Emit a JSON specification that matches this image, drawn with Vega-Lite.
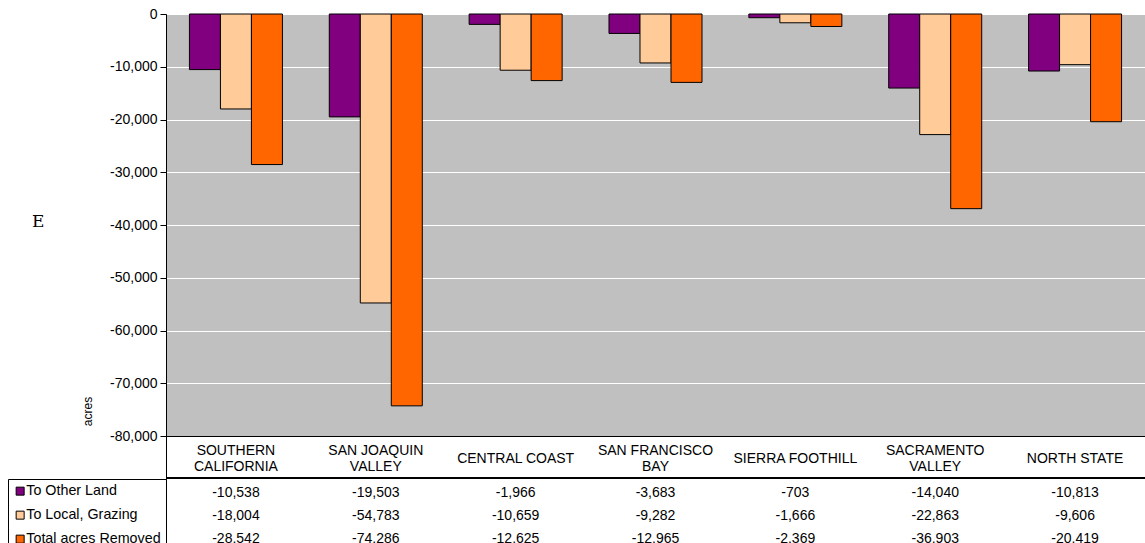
{
  "$schema": "https://vega.github.io/schema/vega-lite/v6.json",
  "padding": {"left": 7, "top": 6, "right": 0, "bottom": 0},
  "background": "white",
  "spacing": 0,
  "bounds": "flush",
  "config": {
    "locale": {"number": {"decimal": ".", "thousands": ",", "grouping": [3], "currency": ["$", ""], "minus": "-"}},
    "font": "Liberation Sans",
    "axis": {"labelFont": "Liberation Sans", "titleFont": "Liberation Sans", "labelColor": "black", "titleColor": "black"},
    "legend": {"labelFont": "Liberation Sans", "labelColor": "black"}
  },
  "datasets": {
    "acres": [
      {"region": "SOUTHERN CALIFORNIA", "series": "To Other Land", "value": -10538},
      {"region": "SAN JOAQUIN VALLEY", "series": "To Other Land", "value": -19503},
      {"region": "CENTRAL COAST", "series": "To Other Land", "value": -1966},
      {"region": "SAN FRANCISCO BAY", "series": "To Other Land", "value": -3683},
      {"region": "SIERRA FOOTHILL", "series": "To Other Land", "value": -703},
      {"region": "SACRAMENTO VALLEY", "series": "To Other Land", "value": -14040},
      {"region": "NORTH STATE", "series": "To Other Land", "value": -10813},
      {"region": "SOUTHERN CALIFORNIA", "series": "To Local, Grazing", "value": -18004},
      {"region": "SAN JOAQUIN VALLEY", "series": "To Local, Grazing", "value": -54783},
      {"region": "CENTRAL COAST", "series": "To Local, Grazing", "value": -10659},
      {"region": "SAN FRANCISCO BAY", "series": "To Local, Grazing", "value": -9282},
      {"region": "SIERRA FOOTHILL", "series": "To Local, Grazing", "value": -1666},
      {"region": "SACRAMENTO VALLEY", "series": "To Local, Grazing", "value": -22863},
      {"region": "NORTH STATE", "series": "To Local, Grazing", "value": -9606},
      {"region": "SOUTHERN CALIFORNIA", "series": "Total acres Removed", "value": -28542},
      {"region": "SAN JOAQUIN VALLEY", "series": "Total acres Removed", "value": -74286},
      {"region": "CENTRAL COAST", "series": "Total acres Removed", "value": -12625},
      {"region": "SAN FRANCISCO BAY", "series": "Total acres Removed", "value": -12965},
      {"region": "SIERRA FOOTHILL", "series": "Total acres Removed", "value": -2369},
      {"region": "SACRAMENTO VALLEY", "series": "Total acres Removed", "value": -36903},
      {"region": "NORTH STATE", "series": "Total acres Removed", "value": -20419}
    ]
  },
  "vconcat": [
    {
      "width": 979,
      "height": 422,
      "data": {"name": "acres"},
      "view": {"fill": "#C0C0C0", "stroke": "#808080", "strokeWidth": 1},
      "title": {"text": "E", "orient": "left", "frame": "group", "anchor": "middle", "angle": 0, "align": "center", "baseline": "middle", "offset": 31, "dy": -3, "font": "DejaVu Serif", "fontSize": 17, "fontWeight": "normal", "color": "black"},
      "mark": {"type": "bar", "stroke": "black", "strokeWidth": 1},
      "encoding": {
        "x": {
          "field": "region", "type": "nominal",
          "sort": ["SOUTHERN CALIFORNIA", "SAN JOAQUIN VALLEY", "CENTRAL COAST", "SAN FRANCISCO BAY", "SIERRA FOOTHILL", "SACRAMENTO VALLEY", "NORTH STATE"],
          "scale": {"paddingInner": 0.335, "paddingOuter": 0.1675},
          "axis": {
            "title": null, "domainColor": "black", "domainWidth": 1, "ticks": false, "labelAngle": 0,
            "labelFontSize": 14, "labelBaseline": "middle", "labelLineHeight": 16,
            "labelPadding": {"condition": {"test": "indexof(['CENTRAL COAST', 'SIERRA FOOTHILL', 'NORTH STATE'], datum.value) >= 0", "value": 22}, "value": 14},
            "labelOverlap": false,
            "labelExpr": "datum.label == 'SOUTHERN CALIFORNIA' ? ['SOUTHERN', 'CALIFORNIA'] : datum.label == 'SAN JOAQUIN VALLEY' ? ['SAN JOAQUIN', 'VALLEY'] : datum.label == 'SAN FRANCISCO BAY' ? ['SAN FRANCISCO', 'BAY'] : datum.label == 'SACRAMENTO VALLEY' ? ['SACRAMENTO', 'VALLEY'] : datum.label"
          }
        },
        "xOffset": {
          "field": "series", "type": "nominal",
          "sort": ["To Other Land", "To Local, Grazing", "Total acres Removed"],
          "scale": {"paddingInner": 0, "paddingOuter": 0}
        },
        "y": {
          "field": "value", "type": "quantitative",
          "scale": {"domain": [-80000, 0], "nice": false},
          "axis": {
            "title": "acres", "values": [0, -10000, -20000, -30000, -40000, -50000, -60000, -70000, -80000],
            "format": ",d", "grid": true, "gridColor": "white", "gridWidth": 1, "gridOpacity": 1,
            "domainColor": "black", "domainWidth": 1, "tickColor": "black", "tickSize": 6, "tickWidth": 1,
            "labelFontSize": 14, "labelPadding": 3, "titleFontSize": 12, "titleFontWeight": "normal",
            "titlePadding": 15, "titleY": 397
          }
        },
        "color": {
          "field": "series", "type": "nominal",
          "scale": {"domain": ["To Other Land", "To Local, Grazing", "Total acres Removed"], "range": ["#800080", "#FFCC99", "#FF6600"]},
          "legend": {
            "orient": "none", "legendX": -158, "legendY": 465, "direction": "vertical", "title": null,
            "symbolType": "square", "symbolSize": 64, "symbolStrokeColor": "black", "symbolStrokeWidth": 1,
            "labelFontSize": 14.3, "labelOffset": -1, "rowPadding": 9, "padding": 5,
            "strokeColor": "black", "fillColor": "white"
          }
        }
      }
    },
    {
      "width": 979,
      "height": 111,
      "data": {"name": "acres"},
      "view": {"stroke": "black", "strokeWidth": 1, "fill": null},
      "layer": [
        {
          "mark": {"type": "text", "fontSize": 14, "font": "Liberation Sans", "color": "black", "dy": 3},
          "encoding": {
            "x": {
              "field": "region", "type": "nominal",
              "sort": ["SOUTHERN CALIFORNIA", "SAN JOAQUIN VALLEY", "CENTRAL COAST", "SAN FRANCISCO BAY", "SIERRA FOOTHILL", "SACRAMENTO VALLEY", "NORTH STATE"],
              "scale": {"paddingInner": 0, "paddingOuter": 0},
              "axis": null
            },
            "y": {
              "field": "series", "type": "nominal",
              "scale": {"domain": ["To Other Land", "To Local, Grazing", "Total acres Removed"], "range": [42, 111], "paddingInner": 0, "paddingOuter": 0},
              "axis": null
            },
            "text": {"field": "value", "type": "quantitative", "format": ","}
          }
        },
        {
          "transform": [{"filter": "datum.series == 'To Other Land'"}],
          "mark": {"type": "rule", "color": "black", "strokeWidth": 1},
          "encoding": {
            "y": {"field": "series", "type": "nominal", "bandPosition": 0}
          }
        }
      ]
    }
  ]
}
